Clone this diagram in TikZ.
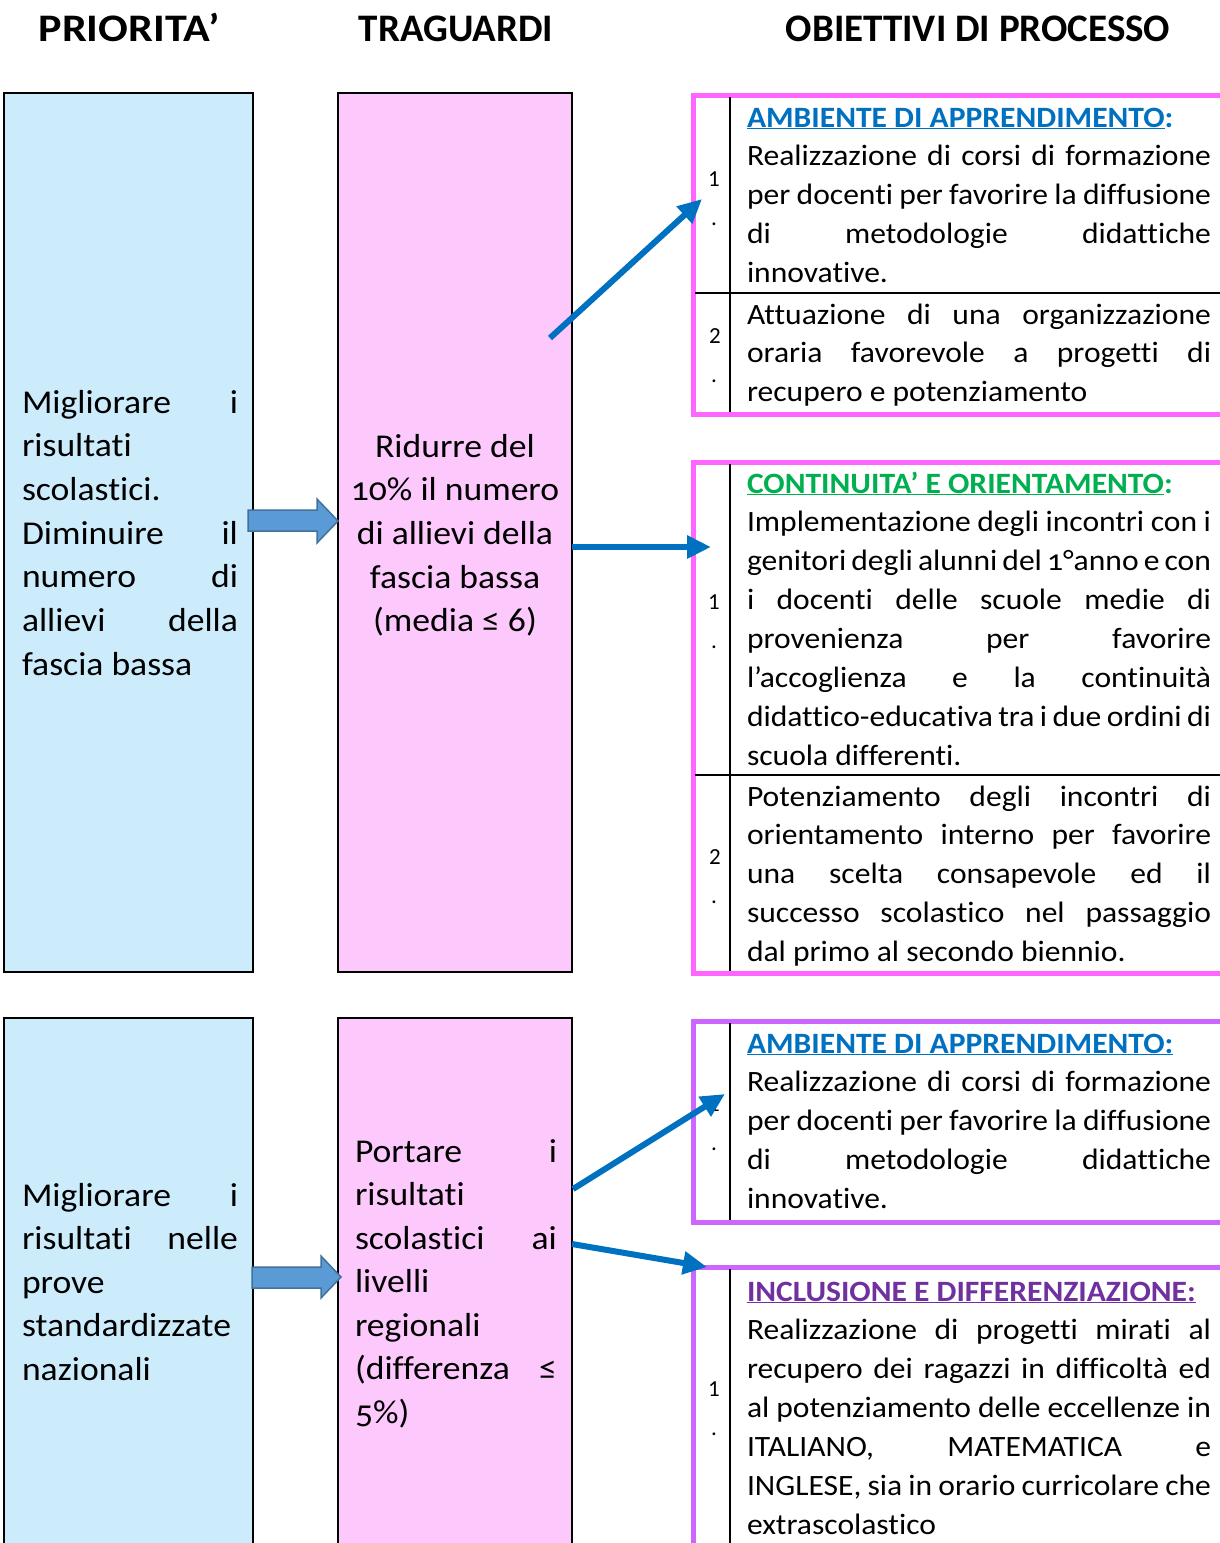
\documentclass[tikz,border=0pt]{standalone}
\usepackage{fontspec}
\usepackage{graphicx}
\setmainfont{Carlito}[FakeStretch=1.07,Ligatures=NoCommon]
\newfontfamily\osfont{Carlito}[FakeStretch=1.07,Numbers=OldStyle,Ligatures=NoCommon]
\newfontfamily\headfont{Carlito}[Ligatures=NoCommon]
\usetikzlibrary{arrows.meta}
\definecolor{prioblue}{HTML}{CCECFC}
\definecolor{tragpink}{HTML}{FDC9FD}
\definecolor{tabmag}{HTML}{FF66FF}
\definecolor{tabpur}{HTML}{CC66FF}
\definecolor{arrblue}{HTML}{0070C0}
\definecolor{blkfill}{HTML}{5B9BD5}
\definecolor{blkdraw}{HTML}{41719C}
\definecolor{hblue}{HTML}{0070C0}
\definecolor{hgreen}{HTML}{00B050}
\definecolor{hpurple}{HTML}{7030A0}
\newcommand\jl[1]{\makebox[\linewidth][s]{#1}\par}
\newcommand\lft[1]{\makebox[\linewidth][l]{#1}\par}
\begin{document}
\begin{tikzpicture}[x=1pt,y=-1pt,
  every node/.style={inner sep=0pt,outer sep=0pt},
  head/.style={anchor=base,font=\headfont\fontsize{39}{39}\selectfont\bfseries},
  prio/.style={draw=black,line width=2pt,fill=prioblue,anchor=north west},
  trag/.style={draw=black,line width=2pt,fill=tragpink,anchor=north west},
  tabm/.style={draw=tabmag,line width=5pt,anchor=north west},
  tabp/.style={draw=tabpur,line width=5pt,anchor=north west},
  rulel/.style={draw=black,line width=2pt},
  bigtxt/.style={anchor=base west,font=\fontsize{33.3}{43.7}\selectfont},
  bigtxtb/.style={anchor=base west,font=\fontsize{33.3}{43.5}\selectfont},
  tabtxt/.style={anchor=base west,font=\fontsize{29.5}{38.9}\selectfont},
  num/.style={anchor=base,font=\headfont\fontsize{23}{23}\selectfont},
  conn/.style={draw=arrblue,line width=6pt,-{Triangle[length=24pt,width=22pt]}},
  blockarrow/.style={fill=blkfill,draw=blkdraw,line width=1.5pt}]
\useasboundingbox[fill=white] (0,0) rectangle (1219,1543);

% headers
\node[head] (hprio) at (129,41) {\scalebox{1.13}[1]{PRIORITA’}};
\node[head] (htrag) at (456,41) {TRAGUARDI};
\node[head] (hobie) at (978,41) {OBIETTIVI DI PROCESSO};

% boxes
\node[prio,minimum width=249pt,minimum height=879pt] (p1) at (4,93) {};
\node[trag,minimum width=234pt,minimum height=879pt] (g1) at (338,93) {};
\node[prio,minimum width=249pt,minimum height=700pt] (p2) at (4,1018) {};
\node[trag,minimum width=234pt,minimum height=700pt] (g2) at (338,1018) {};

% box texts
\node[bigtxt] (p1t) at (22,413) {\parbox[t]{216pt}{%
\jl{Migliorare i}\lft{risultati}\lft{scolastici.}\jl{Diminuire il}\jl{numero di}\jl{allievi della}\lft{fascia bassa}}};
\node[bigtxt] (g1t) at (338,457) {\parbox[t]{234pt}{\centering
Ridurre del\\ {\osfont 10\%} il numero\\ di allievi della\\ fascia bassa\\ (media ≤ 6)}};
\node[bigtxtb] (p2t) at (22,1206) {\parbox[t]{216pt}{%
\jl{Migliorare i}\jl{risultati nelle}\lft{prove}\lft{standardizzate}\lft{nazionali}}};
\node[bigtxtb] (g2t) at (355,1162) {\parbox[t]{202pt}{%
\jl{Portare i}\lft{risultati}\jl{scolastici ai}\lft{livelli}\lft{regionali}\jl{(differenza ≤}\lft{{\osfont 5\%})}}};

% tables
\node[tabm,minimum width=700pt,minimum height=319pt] (t1) at (693,95) {};
\draw[rulel] (730,97) -- (730,412);
\draw[rulel] (695,293) -- (1230,293);
\node[tabm,minimum width=700pt,minimum height=511pt] (t2) at (693,462) {};
\draw[rulel] (730,464) -- (730,971);
\draw[rulel] (695,775) -- (1230,775);
\node[tabp,minimum width=700pt,minimum height=201pt] (t3) at (693,1021) {};
\draw[rulel] (730,1023) -- (730,1220);
\node[tabp,minimum width=700pt,minimum height=500pt] (t4) at (693,1267) {};
\draw[rulel] (730,1269) -- (730,1600);

% numbers
\node[num] (n11) at (714,186) {1};
\node[num] (n11d) at (714,225) {.};
\node[num] (n12) at (715,343) {2};
\node[num] (n12d) at (714,382) {.};
\node[num] (n21) at (714,609) {1};
\node[num] (n21d) at (714,648) {.};
\node[num] (n22) at (715,864) {2};
\node[num] (n22d) at (714,903) {.};
\node[num] (n31) at (714,1111) {1};
\node[num] (n31d) at (714,1150) {.};
\node[num] (n41) at (714,1396) {1};
\node[num] (n41d) at (714,1435) {.};

% table texts
\node[tabtxt] (t1a) at (747,127) {\parbox[t]{464pt}{%
\lft{\textbf{\color{hblue}\underline{AMBIENTE DI APPRENDIMENTO}:}}
\jl{Realizzazione di corsi di formazione}
\jl{per docenti per favorire la diffusione}
\jl{di metodologie didattiche}
\lft{innovative.}}};
\node[tabtxt] (t1b) at (747,324) {\parbox[t]{464pt}{%
\jl{Attuazione di una organizzazione}
\jl{oraria favorevole a progetti di}
\lft{recupero e potenziamento}}};
\node[tabtxt] (t2a) at (747,493) {\parbox[t]{464pt}{%
\lft{\textbf{\color{hgreen}\underline{CONTINUITA’ E ORIENTAMENTO}:}}
\jl{Implementazione degli incontri con i}
\jl{genitori degli alunni del {\osfont 1}°anno e con}
\jl{i docenti delle scuole medie di}
\jl{provenienza per favorire}
\jl{l’accoglienza e la continuità}
\jl{didattico-educativa tra i due ordini di}
\lft{scuola differenti.}}};
\node[tabtxt] (t2b) at (747,806) {\parbox[t]{464pt}{%
\jl{Potenziamento degli incontri di}
\jl{orientamento interno per favorire}
\jl{una scelta consapevole ed il}
\jl{successo scolastico nel passaggio}
\lft{dal primo al secondo biennio.}}};
\node[tabtxt] (t3a) at (747,1053) {\parbox[t]{464pt}{%
\lft{\textbf{\color{hblue}\underline{AMBIENTE DI APPRENDIMENTO:}}}
\jl{Realizzazione di corsi di formazione}
\jl{per docenti per favorire la diffusione}
\jl{di metodologie didattiche}
\lft{innovative.}}};
\node[tabtxt] (t4a) at (747,1301) {\parbox[t]{464pt}{%
\lft{\textbf{\color{hpurple}\underline{INCLUSIONE E DIFFERENZIAZIONE:}}}
\jl{Realizzazione di progetti mirati al}
\jl{recupero dei ragazzi in difficoltà ed}
\jl{al potenziamento delle eccellenze in}
\jl{ITALIANO, MATEMATICA e}
\jl{INGLESE, sia in orario curricolare che}
\lft{extrascolastico}}};

% block arrows
\draw[blockarrow] (248,510) -- (317,510) -- (317,499) -- (338,521) -- (317,543) -- (317,531) -- (248,531) -- cycle;
\draw[blockarrow] (252,1267) -- (321,1267) -- (321,1256) -- (341,1277) -- (321,1298) -- (321,1288) -- (252,1288) -- cycle;

% connectors
\coordinate (a1s) at (550,338);
\coordinate (a1e) at (702,199);
\coordinate (a2s) at (572,547);
\coordinate (a2e) at (711,547);
\coordinate (a3s) at (573,1189);
\coordinate (a3e) at (725,1094);
\coordinate (a4s) at (572,1244);
\coordinate (a4e) at (707,1267);
\draw[conn] (a1s) -- (a1e);
\draw[conn] (a2s) -- (a2e);
\draw[conn] (a3s) -- (a3e);
\draw[conn] (a4s) -- (a4e);
\end{tikzpicture}
\end{document}
